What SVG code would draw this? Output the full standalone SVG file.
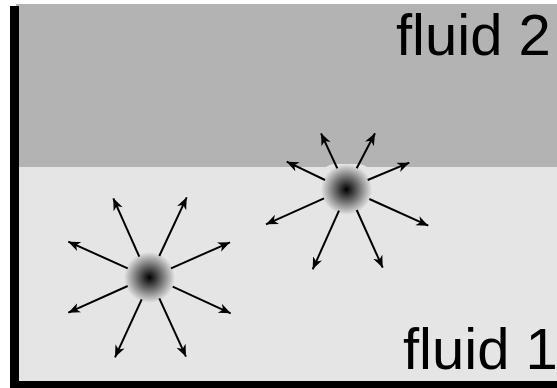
<svg xmlns="http://www.w3.org/2000/svg" width="557" height="388" viewBox="0 0 557 388">
  <style>
    .lbl { font-family: "Liberation Sans", Arial, sans-serif; font-size: 58px; fill: #000; }
    .arr { stroke: #000; stroke-width: 2; fill: none; marker-end: url(#ah); }
  </style>
  <defs>
    <radialGradient id="bub" cx="0.5" cy="0.5" r="0.5">
      <stop offset="0" stop-color="#000"/>
      <stop offset="1" stop-color="#e5e5e5"/>
    </radialGradient>
    <marker id="ah" markerUnits="userSpaceOnUse" markerWidth="14" markerHeight="12" refX="12" refY="5" orient="auto">
      <path d="M0,0 L12,5 L0,10 L3.5,5 Z" fill="#000"/>
    </marker>
  </defs>

  <g id="fluid2">
    <rect x="16" y="4" width="541" height="163" fill="#b3b3b3"/>
    <text class="lbl" x="396" y="55">fluid 2</text>
  </g>
  <g id="fluid1">
    <rect x="16" y="167" width="541" height="214" fill="#e5e5e5"/>
    <text class="lbl" x="403" y="369">fluid 1</text>
  </g>
  <g id="wall">
    <rect x="10" y="6" width="9" height="382" fill="#000"/>
    <rect x="10" y="381" width="547" height="7" fill="#000"/>
  </g>

  <g id="bubble1">
    <rect x="124" y="252" width="51" height="51" rx="14" fill="url(#bub)"/>
  </g>
  <g id="bubble2">
    <rect x="321" y="164" width="51" height="51" rx="14" fill="url(#bub)"/>
  </g>

  <g id="connectors">
    <line class="arr" x1="139.3" y1="256.7" x2="113.3" y2="198.3"/>
    <line class="arr" x1="159.3" y1="256" x2="186.7" y2="197.3"/>
    <line class="arr" x1="127.7" y1="268.3" x2="68.3" y2="241.7"/>
    <line class="arr" x1="171" y1="268.3" x2="230" y2="242.3"/>
    <line class="arr" x1="127.7" y1="286" x2="68.3" y2="312.7"/>
    <line class="arr" x1="172.7" y1="286.7" x2="230.7" y2="313.3"/>
    <line class="arr" x1="141.7" y1="299.3" x2="115" y2="357.3"/>
    <line class="arr" x1="159.3" y1="298.3" x2="186" y2="356.7"/>

    <line class="arr" x1="337.3" y1="168.3" x2="321" y2="133.3"/>
    <line class="arr" x1="356.7" y1="168.3" x2="375" y2="133.3"/>
    <line class="arr" x1="325" y1="180" x2="286.7" y2="161.7"/>
    <line class="arr" x1="367.7" y1="180" x2="409.3" y2="162.7"/>
    <line class="arr" x1="324" y1="198.3" x2="266" y2="224.3"/>
    <line class="arr" x1="369.3" y1="199" x2="428.3" y2="225.7"/>
    <line class="arr" x1="339" y1="210.7" x2="312.7" y2="269.3"/>
    <line class="arr" x1="356.7" y1="210" x2="382.7" y2="267.7"/>
  </g>
</svg>
